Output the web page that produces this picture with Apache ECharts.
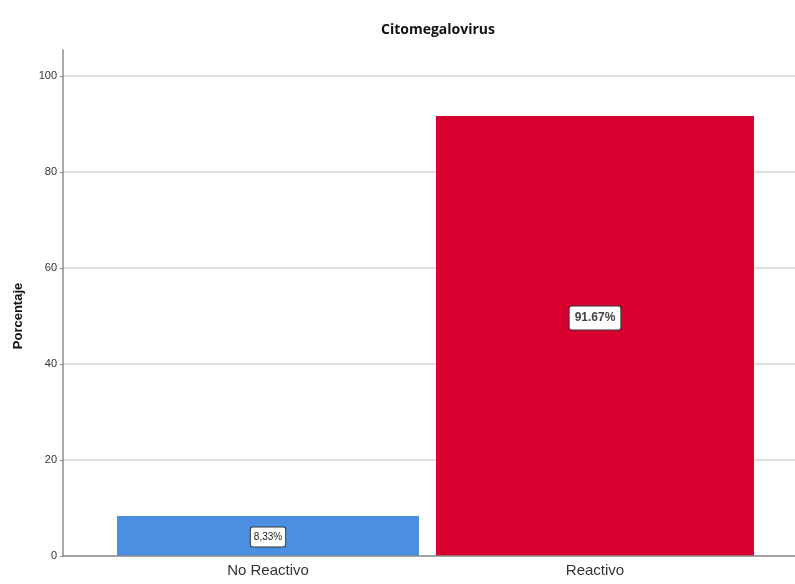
<!DOCTYPE html>
<html>
<head>
<meta charset="utf-8">
<script src="https://cdn.jsdelivr.net/npm/echarts@6/dist/echarts.min.js"></script>
<style>html,body{margin:0;padding:0;background:#fff;}#c{width:795px;height:584px;}</style>
</head>
<body>
<div id="c"></div>
<script>
const categories = ['No Reactivo', 'Reactivo'];
const values = [8.33, 91.67];
const valueLabels = ['8,33%', '91.67%'];
const yTicks = [0, 20, 40, 60, 80, 100];
const barColors = ['#4a8fe2', '#d7002f'];

const chart = echarts.init(document.getElementById('c'));
const narrow = "'Liberation Sans Narrow', 'Liberation Sans', Arial, sans-serif";
const barGrid = { left: 104.5, right: 36.5, top: 76, bottom: 28 };

chart.setOption({
  animation: false,
  title: {
    text: 'Citomegalovirus',
    left: 433, top: 18, textAlign: 'center',
    textStyle: { fontFamily: "'Open Sans', 'Liberation Sans', sans-serif", fontWeight: 'bold', fontSize: 14, color: '#111' }
  },
  grid: [
    { left: 63, right: 0, top: 76, bottom: 28 },
    { left: 63, right: 0, top: 50, bottom: 28 },
    barGrid,
    barGrid
  ],
  xAxis: [
    { gridIndex: 0, type: 'category', data: [''], axisLine: { show: true, lineStyle: { color: '#8c8c8c', width: 1.5 } }, axisTick: { show: false }, axisLabel: { show: false }, z: 5 },
    { gridIndex: 1, type: 'category', data: [''], show: false },
    { gridIndex: 2, type: 'category', data: categories,
      axisLine: { show: false }, axisTick: { show: false },
      axisLabel: { fontFamily: narrow, fontSize: 15, color: '#333', margin: 7 } },
    { gridIndex: 3, type: 'category', data: categories, show: false }
  ],
  yAxis: [
    { gridIndex: 0, type: 'value', min: yTicks[0], max: yTicks[yTicks.length - 1], interval: yTicks[1] - yTicks[0],
      name: 'Porcentaje', nameLocation: 'middle', nameGap: 38, nameRotate: 90,
      nameTextStyle: { fontFamily: "'Liberation Sans', Arial, sans-serif", fontWeight: 'bold', fontSize: 13, color: '#111' },
      axisLine: { show: false },
      axisTick: { show: true, length: 3, lineStyle: { color: '#8c8c8c' } },
      axisLabel: { fontFamily: narrow, fontSize: 11, color: '#333', margin: 6 },
      splitLine: { show: true, lineStyle: { color: '#d6d6d6', width: 1.5 } } },
    { gridIndex: 1, type: 'value', min: 0, max: 105, axisLine: { show: true, lineStyle: { color: '#8c8c8c', width: 1.5 } }, axisTick: { show: false }, axisLabel: { show: false }, splitLine: { show: false } },
    { gridIndex: 2, type: 'value', min: yTicks[0], max: yTicks[yTicks.length - 1], show: false },
    { gridIndex: 3, type: 'value', min: yTicks[0], max: yTicks[yTicks.length - 1], show: false }
  ],
  series: [
    { type: 'bar', xAxisIndex: 2, yAxisIndex: 2, barWidth: 302,
      data: [values[0], '-'], itemStyle: { color: barColors[0] },
      label: { show: true, position: 'inside', formatter: () => valueLabels[0],
        fontFamily: narrow, fontSize: 10, color: '#222', backgroundColor: '#fff', borderColor: '#333', borderWidth: 1, borderRadius: 2, padding: [5, 3, 4, 3], offset: [0, 1] } },
    { type: 'bar', xAxisIndex: 3, yAxisIndex: 3, barWidth: 318,
      data: ['-', values[1]], itemStyle: { color: barColors[1] },
      label: { show: true, position: 'inside', formatter: () => valueLabels[1],
        fontFamily: "'Liberation Sans', Arial, sans-serif", fontWeight: 'bold', fontSize: 12, color: '#444', backgroundColor: '#fff', borderColor: '#333', borderWidth: 1, borderRadius: 2, padding: [6, 5, 5, 5], offset: [0, -18] } }
  ]
});
</script>
</body>
</html>
